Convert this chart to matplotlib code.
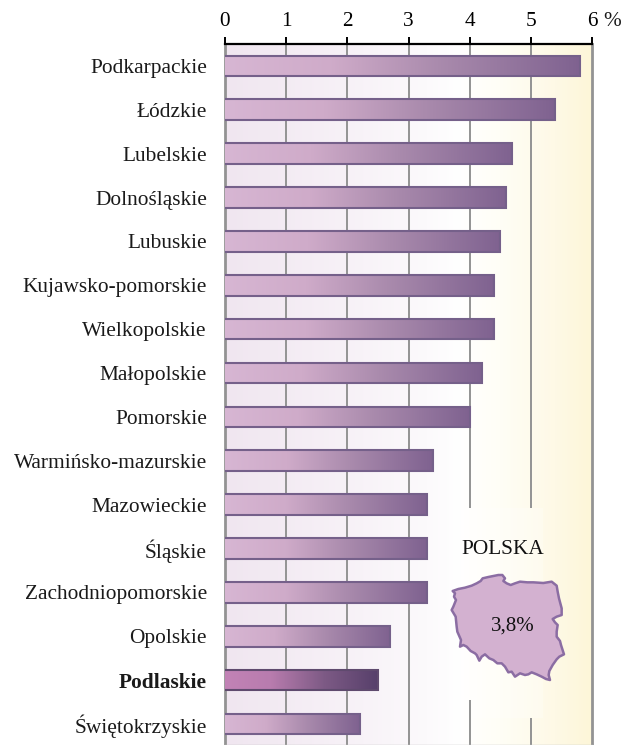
import numpy as np
import matplotlib
matplotlib.use('Agg')
import matplotlib.pyplot as plt
from matplotlib.colors import LinearSegmentedColormap
from matplotlib.patches import Polygon, Rectangle

plt.rcParams['font.family'] = ['Liberation Serif', 'DejaVu Serif']

regions = ['Podkarpackie', 'Łódzkie', 'Lubelskie', 'Dolnośląskie', 'Lubuskie',
           'Kujawsko-pomorskie', 'Wielkopolskie', 'Małopolskie', 'Pomorskie',
           'Warmińsko-mazurskie', 'Mazowieckie', 'Śląskie', 'Zachodniopomorskie',
           'Opolskie', 'Podlaskie', 'Świętokrzyskie']
values = [5.8, 5.4, 4.7, 4.6, 4.5, 4.4, 4.4, 4.2, 4.0, 3.4, 3.3, 3.3, 3.3, 2.7, 2.5, 2.2]
x_ticks = [0, 1, 2, 3, 4, 5, 6]
highlight = 'Podlaskie'
poland_label = 'POLSKA'
poland_value = '3,8%'

# outline of the map
poland_x = [38, 55, 75, 95, 110, 122, 128, 145, 160, 175, 187, 195, 190, 200, 212, 225, 240, 262,
            280, 310, 335, 350, 353, 357, 365, 365, 350, 338, 345, 353, 350, 350, 360, 363, 372,
            358, 350, 338, 328, 326, 330, 318, 305, 290, 275, 265, 255, 240, 225, 215, 205, 195,
            185, 172, 160, 148, 135, 125, 118, 110, 105, 92, 80, 70, 60, 63, 52, 50, 47, 35, 40,
            48, 42, 45]
poland_y = [78, 72, 68, 62, 55, 48, 40, 36, 33, 30, 30, 40, 48, 55, 60, 55, 50, 52,
            52, 54, 50, 62, 80, 100, 130, 150, 155, 162, 172, 180, 200, 215, 228, 240, 268,
            275, 283, 300, 318, 330, 345, 342, 335, 328, 322, 328, 330, 325, 335, 320, 322, 305,
            295, 295, 285, 280, 268, 275, 287, 270, 265, 258, 245, 240, 245, 225, 200, 185, 155, 135, 125,
            105, 95, 85]

W, H = 632, 745
fig = plt.figure(figsize=(W / 100, H / 100), dpi=100)
ax = fig.add_axes([225 / W, 0, (592 - 225) / W, (H - 44) / H])

bg_cmap = LinearSegmentedColormap.from_list('bg', [
    (0, '#f0e6f0'), (0.33, '#f7f1f7'), (0.55, '#fcfafc'), (0.64, '#ffffff'),
    (0.75, '#fffef6'), (0.9, '#fef9e6'), (1, '#fdf6d8')])
bar_cmap = LinearSegmentedColormap.from_list('bar', [
    (0, '#d7b6d3'), (0.3, '#cfabc9'), (0.6, '#aa8bad'), (1, '#7f6290')])
top_cmap = LinearSegmentedColormap.from_list('top', [
    (0, '#c283b6'), (0.3, '#b87cae'), (0.65, '#7d5a85'), (1, '#57406b')])
grad = np.linspace(0, 1, 256).reshape(1, -1)

ax.imshow(grad, extent=(0, 6, 15.48, -0.5), cmap=bg_cmap, aspect='auto', zorder=0)
# lighter box left behind the map
ax.add_patch(Rectangle((3.86, 10.08), 1.34, 4.78, facecolor='white', edgecolor='none',
                       alpha=0.25, zorder=0.5))

# gridlines, 4 and 5 are interrupted behind the map
ypos = np.arange(len(regions))
y_top, y_bottom = -0.5, 15.48
for t in x_ticks[1:4]:
    ax.vlines(t, y_top, y_bottom, color='#939393', lw=1.4, zorder=1)
for t, gap_end in [(4, 14.45), (5, 14.86)]:
    ax.vlines(t, y_top, 10.08, color='#939393', lw=1.4, zorder=1)
    ax.vlines(t, gap_end, y_bottom, color='#939393', lw=1.4, zorder=1)

bars = ax.barh(ypos, values, height=0.47, facecolor='none', edgecolor='none', zorder=2)
for rect, name, v in zip(bars, regions, values):
    y0 = rect.get_y()
    y1 = y0 + rect.get_height()
    cm = top_cmap if name == highlight else bar_cmap
    im = ax.imshow(grad, extent=(0, v, y1, y0), cmap=cm, aspect='auto', zorder=3)
    im.set_clip_path(rect)
    edge = '#5f4a6e' if name == highlight else '#75608a'
    ax.plot([0, v, v, 0], [y0, y0, y1, y1], color=edge, lw=1.5, zorder=4,
            solid_joinstyle='miter', solid_capstyle='butt')

ax.set_xlim(0, 6)
ax.set_ylim(y_bottom, y_top)
ax.set_xticks(x_ticks)
ax.set_yticks(ypos)
ax.set_yticklabels(regions, fontsize=15.4, color='#1a1a1a')
for lab in ax.get_yticklabels():
    if lab.get_text() == highlight:
        lab.set_fontweight('bold')
ax.tick_params(axis='y', length=0, pad=13)
ax.tick_params(axis='x', top=True, bottom=False, labeltop=True, labelbottom=False,
               length=5, width=1.4, color='black', labelsize=15.3, pad=4)
for side in ['left', 'right', 'bottom']:
    ax.spines[side].set_color('#939393')
    ax.spines[side].set_linewidth(2)
ax.spines['bottom'].set_linewidth(1)
ax.spines['bottom'].set_color('#c4c4c4')
ax.spines['top'].set_color('black')
ax.spines['top'].set_linewidth(1.6)

fig.text(612 / W, 1 - 21 / H, '%', fontsize=15.3, ha='center', va='center', color='#1a1a1a')

# map drawn in its own transparent axes, in traced pixel units
map_ax = fig.add_axes([440 / W, 1 - (565 + 125) / H, 135 / W, 125 / H])
map_ax.set_xlim(0, 405)
map_ax.set_ylim(375, 0)
map_ax.axis('off')
map_ax.add_patch(Polygon(np.column_stack([poland_x, poland_y]), closed=True,
                         facecolor='#d3b1d0', edgecolor='#8b6da3', lw=1.8, joinstyle='round'))
map_ax.text(218, 183, poland_value, fontsize=15, ha='center', va='center', color='#111111')
fig.text(503 / W, 1 - 549 / H, poland_label, fontsize=15.3, ha='center', va='center', color='#111111')

fig.savefig('out.png', dpi=100)
